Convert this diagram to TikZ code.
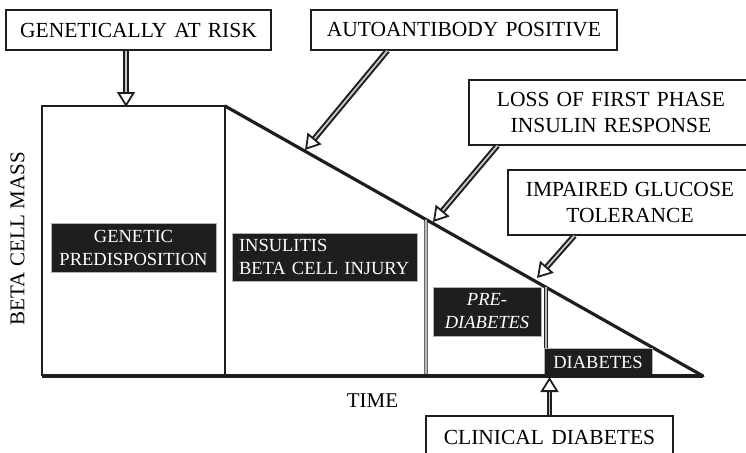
\documentclass[tikz,border=0pt]{standalone}
\usepackage{fontspec}
\setmainfont{Liberation Serif}
\usetikzlibrary{arrows.meta,calc}
\definecolor{ink}{HTML}{1E1E1E}
\tikzset{
  outbox/.style={draw=ink, line width=1.3pt, fill=white, inner sep=0pt, align=center,
    font=\fontsize{21.5}{26}\selectfont, text=black},
  darkbox/.style={fill=ink, draw=gray!60, line width=0.6pt, inner sep=0pt, align=center,
    font=\fontsize{18.5}{23}\selectfont, text=white},
  pointer/.style={draw=ink, line width=2pt, double=gray!45, double distance=1.8pt,
    -{Triangle[open, length=15pt, width=18pt, line width=1.8pt]}},
  thinwall/.style={draw=ink, line width=1.4pt},
  dblwall/.style={draw=ink, line width=0.9pt, double=gray!55, double distance=1.6pt},
  plainlabel/.style={font=\fontsize{21}{26}\selectfont, inner sep=0pt, text=black}
}
\begin{document}
\begin{tikzpicture}[x=1pt, y=-1pt]
\useasboundingbox (0,0) rectangle (746,452);
\clip (0,0) rectangle (746,452);
\fill[white] (0,0) rectangle (746,452);

% corner points of the graph
\coordinate (A) at (42,106);
\coordinate (B) at (225,106);
\coordinate (C) at (703,376);
\coordinate (D) at (42,376);
\coordinate (E) at (225,376);

% walls
\draw[thinwall] (B) -- (E);
\draw[line width=2pt, draw=ink] (D) -- (A) -- (B);
\draw[line width=3.2pt, draw=ink, line cap=round] (B) -- (C);

% dark labels
\node[darkbox, text width=165pt, minimum height=49pt] (gen) at (133.5,247.5) {GENETIC\\PREDISPOSITION};
\node[darkbox, minimum height=48pt, align=left, text width=171pt, inner xsep=7pt] (ins) at (324.5,257) {INSULITIS\\BETA CELL INJURY};
\node[darkbox, text width=108pt, minimum height=49pt, font=\fontsize{18.5}{23}\selectfont\itshape] (pre) at (487,311.5) {PRE-\\DIABETES};
\node[darkbox, text width=108pt, minimum height=28pt] (dia) at (598,362) {DIABETES};

% double walls
\coordinate (w1b) at (426,376);
\coordinate (w1t) at (intersection of B--C and 426,0--426,400);
\coordinate (w2t) at (intersection of B--C and 546,0--546,400);
\draw[dblwall] (w1t) -- (w1b);
\draw[dblwall] (w2t) -- (dia.north west -| w2t);

% time axis
\draw[line width=3.6pt, draw=ink] (D) -- (C);

% axis labels
\node[plainlabel] (time) at (372.5,400.5) {TIME};
\node[plainlabel, rotate=90] (mass) at (17.5,238.5) {BETA CELL MASS};

% callout boxes
\node[outbox, text width=265pt, minimum height=40pt] (gar) at (138.5,30) {GENETICALLY AT RISK};
\node[outbox, text width=306pt, minimum height=40pt] (auto) at (464,30) {AUTOANTIBODY POSITIVE};
\node[outbox, text width=284pt, minimum height=65pt] (loss) at (611,112.5) {LOSS OF FIRST PHASE\\INSULIN RESPONSE};
\node[outbox, text width=244pt, minimum height=65pt] (imp) at (630,202.5) {IMPAIRED GLUCOSE\\TOLERANCE};
\node[outbox, text width=247pt, minimum height=42pt] (clin) at (549.5,437) {CLINICAL DIABETES};

% arrow targets
\coordinate (t1) at (126,107);
\coordinate (t2) at (305,150);
\coordinate (t3) at (433,222);
\coordinate (t4) at (537,278);
\coordinate (t5) at (549.5,377);

% pointers
\draw[pointer] (t1 |- gar.south) -- (t1);
\draw[pointer] ([xshift=77pt]auto.south west) -- (t2);
\draw[pointer] ([xshift=29pt]loss.south west) -- (t3);
\draw[pointer] ([xshift=67pt]imp.south west) -- (t4);
\draw[pointer] (clin.north) -- (t5);
\end{tikzpicture}
\end{document}
